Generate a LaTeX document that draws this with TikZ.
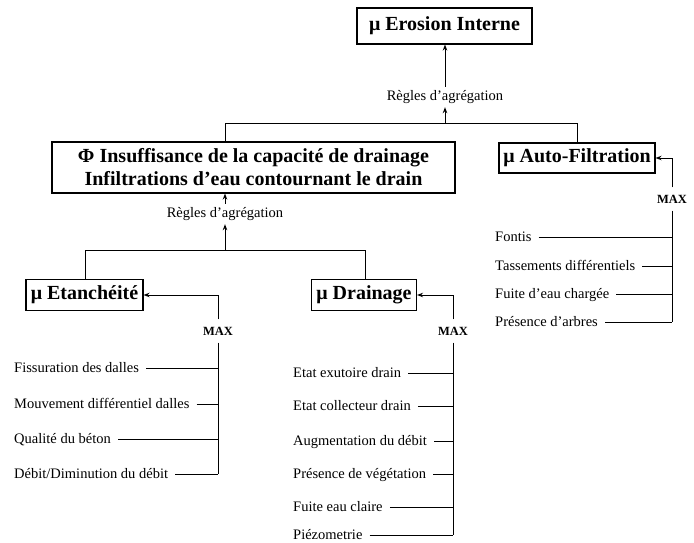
\documentclass[tikz,border=0pt]{standalone}
\usepackage{fontspec}
\setmainfont{Liberation Serif}
\usetikzlibrary{arrows.meta}
\begin{document}
\begin{tikzpicture}[x=1pt,y=-1pt,
  box/.style={draw, line width=1.1pt, font=\fontsize{20}{23}\selectfont\bfseries, inner sep=2pt, align=center},
  item/.style={anchor=west, font=\fontsize{14.5}{16}\selectfont, inner xsep=7pt, inner ysep=0pt, text height=9pt, text depth=0pt},
  maxlab/.style={font=\fontsize{12.5}{14}\selectfont\bfseries, inner xsep=2pt, inner ysep=0pt, text height=8.5pt, text depth=0pt, minimum height=23pt},
  rulelab/.style={font=\fontsize{14.5}{16}\selectfont, inner sep=0pt, text height=10pt, text depth=3pt, minimum height=20pt},
  conn/.style={line width=1pt},
  arr/.style={conn, -{Stealth[length=6pt,width=4.5pt]}}]
\useasboundingbox (0,0) rectangle (694,543);

% boxes
\node[box, minimum width=175pt, minimum height=36pt] (top) at (444.5,26) {μ Erosion Interne};
\node[box, minimum width=403pt, minimum height=51pt] (phi) at (253.5,167.5) {Φ Insuffisance de la capacité de drainage\\Infiltrations d’eau contournant le drain};
\node[box, minimum width=156pt, minimum height=30pt] (auto) at (577,158) {μ Auto-Filtration};
\node[box, minimum width=117pt, minimum height=31pt] (etan) at (84.5,295) {μ Etanchéité};
\node[box, minimum width=105pt, minimum height=31pt] (drain) at (364,295) {μ Drainage};

% aggregation labels
\node[rulelab] (r1) at (445,97) {Règles d’agrégation};
\node[rulelab] (r2) at (225,214) {Règles d’agrégation};

% MAX labels
\node[maxlab] (m1) at (218,331) {MAX};
\node[maxlab] (m2) at (453,331) {MAX};
\node[maxlab] (m3) at (672,199) {MAX};

% junctions
\coordinate (j1) at (445,123);
\coordinate (j1L) at (225,123);
\coordinate (j1R) at (577,123);
\coordinate (j2) at (225,250);
\coordinate (j2L) at (85,250);
\coordinate (j2R) at (365,250);

\draw[arr] (r1.north) -- (top.south -| r1.north);
\draw[arr] (j1) -- (r1.south);
\draw[conn] (j1L |- phi.north) -- (j1L) -- (j1R) -- (auto.north);
\draw[arr] (r2.north) -- (phi.south -| r2.north);
\draw[arr] (j2) -- (r2.south);
\draw[conn] (j2L |- etan.north) -- (j2L) -- (j2R) -- (j2R |- drain.north);

% Etancheite items
\node[item] (e1) at (7,368) {Fissuration des dalles};
\node[item] (e2) at (7,404) {Mouvement différentiel dalles};
\node[item] (e3) at (7,439) {Qualité du béton};
\node[item] (e4) at (7,474) {Débit/Diminution du débit};
\draw[arr] (m1.north) |- (etan.east);
\draw[conn] (m1.south) -- (m1.south |- e4.east);
\foreach \n in {e1,e2,e3,e4} \draw[conn] (\n.east) -- (\n.east -| m1.south);

% Drainage items
\node[item] (d1) at (286,373) {Etat exutoire drain};
\node[item] (d2) at (286,406) {Etat collecteur drain};
\node[item] (d3) at (286,441) {Augmentation du débit};
\node[item] (d4) at (286,474) {Présence de végétation};
\node[item] (d5) at (286,507) {Fuite eau claire};
\node[item] (d6) at (286,535) {Piézometrie};
\draw[arr] (m2.north) |- (drain.east);
\draw[conn] (m2.south) -- (m2.south |- d6.east);
\foreach \n in {d1,d2,d3,d4,d5,d6} \draw[conn] (\n.east) -- (\n.east -| m2.south);

% Auto-Filtration items
\node[item] (a1) at (488,237) {Fontis};
\node[item] (a2) at (488,266) {Tassements différentiels};
\node[item] (a3) at (488,294) {Fuite d’eau chargée};
\node[item] (a4) at (488,322) {Présence d’arbres};
\draw[arr] (m3.north) |- (auto.east);
\draw[conn] (m3.south) -- (m3.south |- a4.east);
\foreach \n in {a1,a2,a3,a4} \draw[conn] (\n.east) -- (\n.east -| m3.south);
\end{tikzpicture}
\end{document}
